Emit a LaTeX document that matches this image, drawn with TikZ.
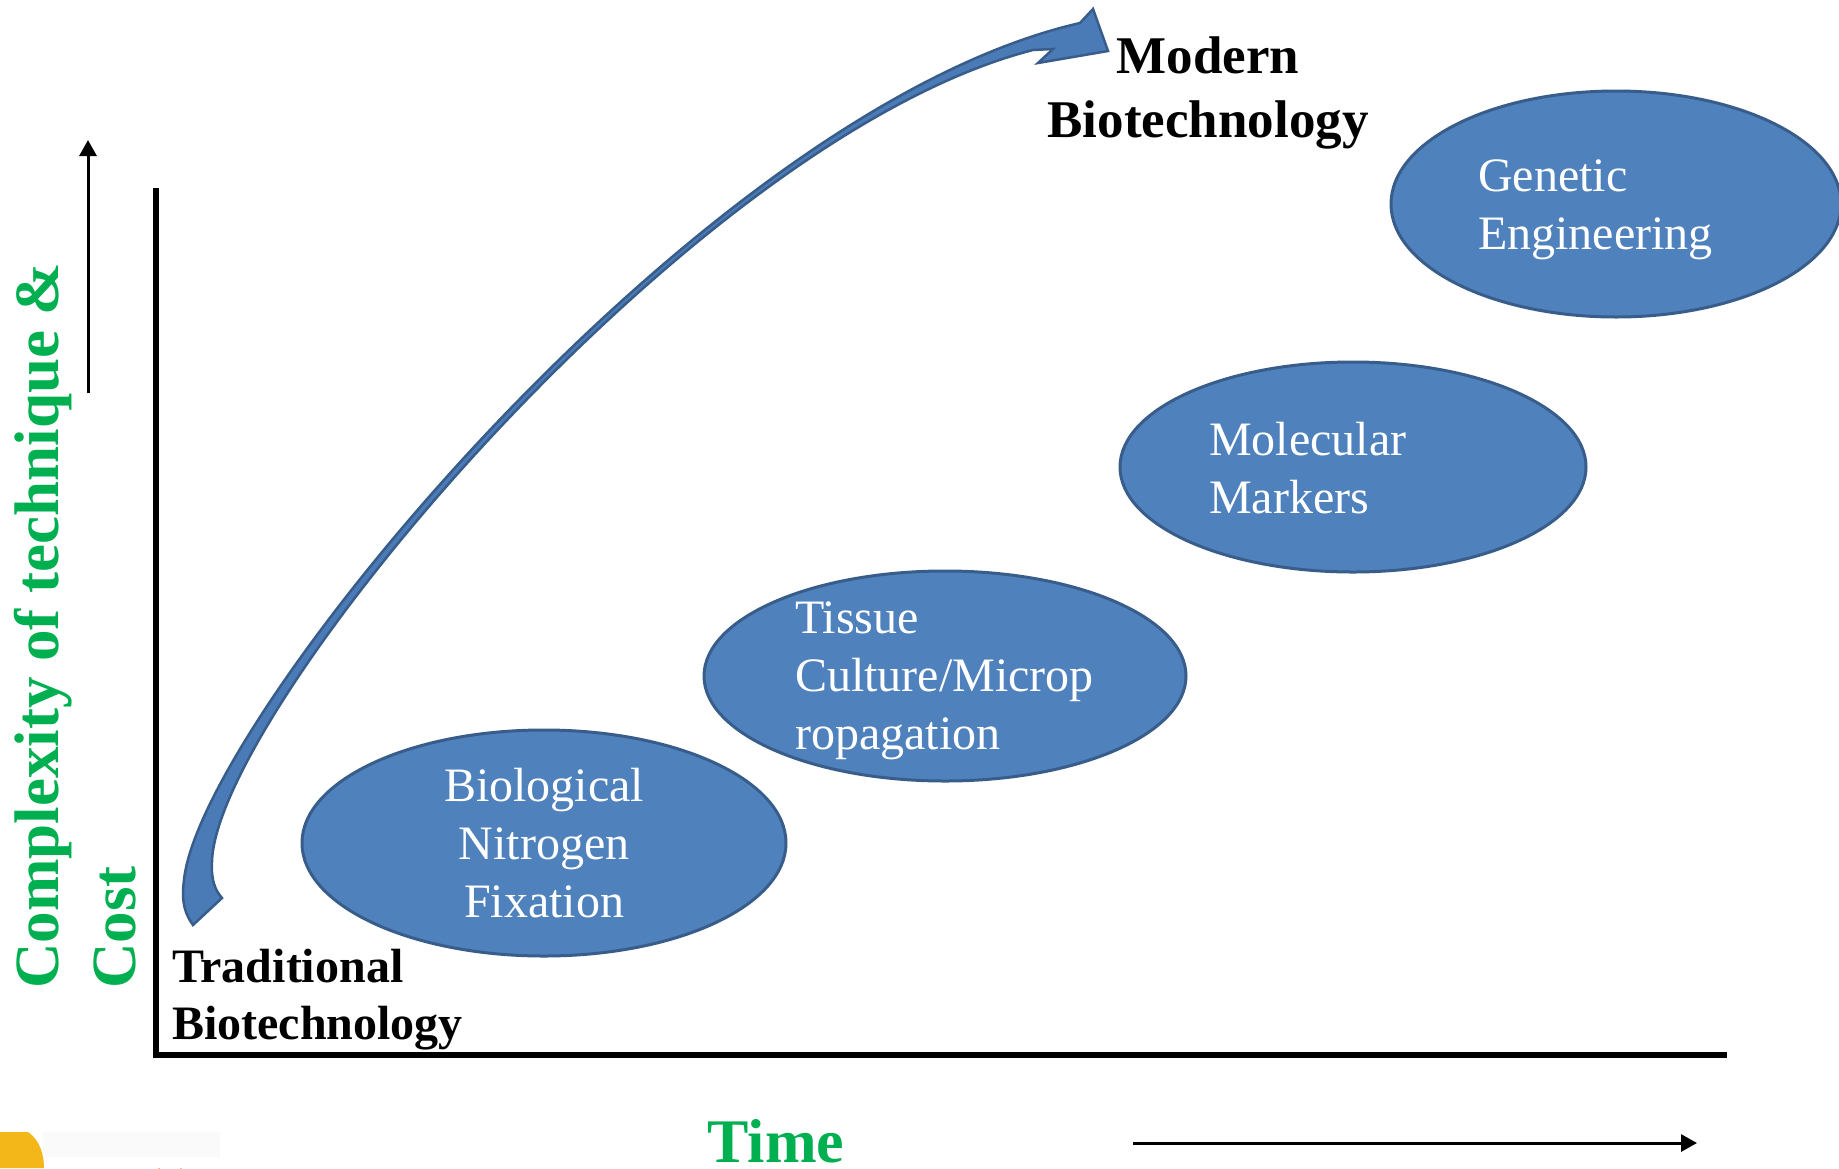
\documentclass[tikz,border=0pt]{standalone}
\usepackage{fontspec}
\setmainfont{Liberation Serif}
\usetikzlibrary{shapes.geometric,arrows.meta}
\definecolor{bubblefill}{HTML}{4F81BD}
\definecolor{bubbleedge}{HTML}{385D8A}
\definecolor{arrowfill}{HTML}{4A7BB7}
\definecolor{axisgreen}{HTML}{00B050}
\definecolor{logoyellow}{HTML}{F4B71A}

\begin{document}
\begin{tikzpicture}[x=1pt,y=-1pt,
  bubble/.style={ellipse, draw=bubbleedge, fill=bubblefill, line width=3pt, inner sep=0pt},
  bubbletext/.style={text=white, inner sep=0pt, font=\fontsize{48}{58}\selectfont},
  eralabel/.style={inner sep=0pt, font=\bfseries\fontsize{48}{57}\selectfont},
  axislabel/.style={text=axisgreen, inner sep=0pt, font=\bfseries\fontsize{63}{77}\selectfont},
  axisline/.style={line width=5.5pt},
  dirarrow/.style={line width=3pt, -{Triangle[length=16pt,width=17pt]}}]
\useasboundingbox (0,0) rectangle (1839,1168);
\fill[white] (0,0) rectangle (1839,1168);

% axes
\coordinate (ytop) at (156,188);
\coordinate (origin) at (156,1055);
\coordinate (xend) at (1727,1055);
\draw[axisline] (ytop) -- (origin) -- (xend);

% direction arrows beside the axis titles
\coordinate (yarrowstart) at (88,393);
\coordinate (yarrowtip) at (88,140);
\draw[dirarrow] (yarrowstart) -- (yarrowtip);
\coordinate (tarrowstart) at (1133,1143);
\coordinate (tarrowtip) at (1697,1143);
\draw[dirarrow] (tarrowstart) -- (tarrowtip);

% axis titles
\node[axislabel, rotate=90, align=left, anchor=south west] (ylabel) at (136,989)
  {Complexity of technique \&\\Cost};
\node[axislabel, font=\bfseries\fontsize{62}{74}\selectfont, anchor=base] (xlabel) at (776,1162) {Time};

% sweeping arrow from traditional to modern biotechnology:
% outer edge up to the head, head, inner edge back down to the cut tail
\filldraw[fill=arrowfill, draw=bubbleedge, line width=2.5pt]
  (193,925) .. controls (182,910) and (182,895) .. (184,880)
  .. controls (200,720) and (700,110) .. (1080,23)
  -- (1093,9) -- (1108,51) -- (1038,63) -- (1053,49) -- (1033,50)
  .. controls (690,138) and (215,712) .. (212,862)
  .. controls (211,880) and (215,890) .. (222,898)
  -- cycle;

% era labels
\node[eralabel, font=\bfseries\fontsize{53}{64}\selectfont, align=center] (modern) at (1208,93)
  {Modern\\Biotechnology};
\node[eralabel, align=left, anchor=west] (traditional) at (172,1000)
  {Traditional\\Biotechnology};

% technique bubbles
\node[bubble, minimum width=484pt, minimum height=226pt] (bnf) at (544,843) {};
\node[bubble, minimum width=482pt, minimum height=210pt] (tc) at (945,676) {};
\node[bubble, minimum width=466pt, minimum height=210pt] (mm) at (1353,467) {};
\node[bubble, minimum width=450pt, minimum height=226pt] (ge) at (1616,204) {};

\node[bubbletext, align=center] (bnftext) at (544,843.5) {Biological\\Nitrogen\\Fixation};
\node[bubbletext, align=left, anchor=west] (tctext) at (795,681) {Tissue\\Culture/Microp\\ropagation};
\node[bubbletext, align=left, anchor=west] (mmtext) at (1209,468.5) {Molecular\\Markers};
\node[bubbletext, align=left, anchor=west] (getext) at (1478,209.5) {Genetic\\Engineering};

% edge of a logo strip at the foot of the page
\fill[black!2] (43,1132) rectangle (220,1157);
\fill[logoyellow] (0,1132) -- (28,1132) .. controls (40,1140) and (44,1155) .. (44,1168) -- (0,1168) -- cycle;
\draw[orange!60, line width=1.5pt] (159,1168) arc (180:0:11);
\end{tikzpicture}
\end{document}
